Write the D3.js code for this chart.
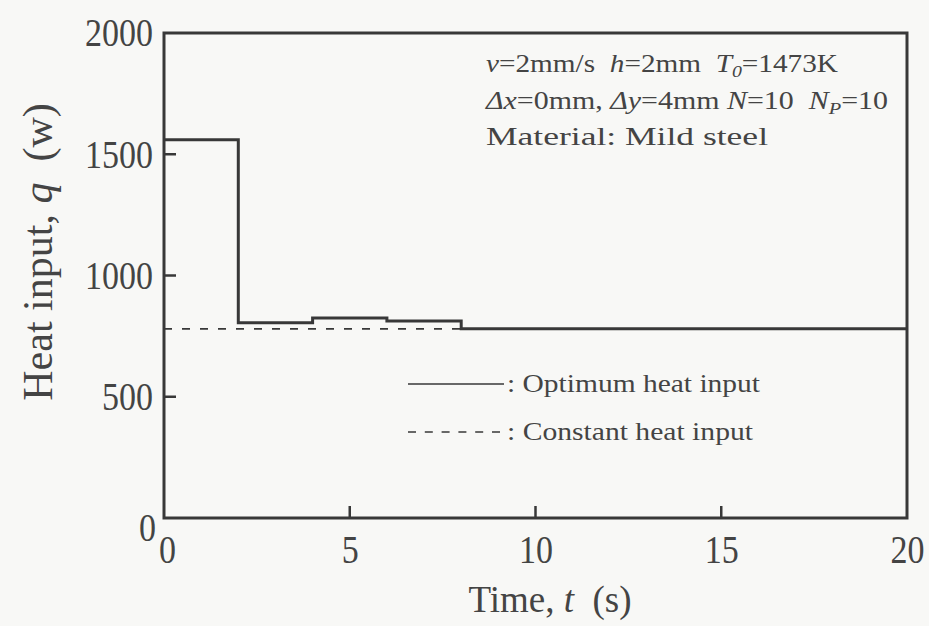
<!DOCTYPE html>
<html>
<head>
<meta charset="utf-8">
<script src="https://cdn.jsdelivr.net/npm/d3@7"></script>
<style>
  html, body { margin: 0; padding: 0; background: #f8f8f6; }
  svg { display: block; }
  text { font-family: "Liberation Serif", "DejaVu Serif", serif; fill: #444444; }
</style>
</head>
<body>
<svg id="chart" width="929" height="626"></svg>
<script>
// ---- data ----
const stepTimes = [0, 2, 4, 6, 8, 20];               // step boundaries (s)
const optimumHeat = [1560, 805, 825, 812, 780];      // W, per interval
const constantHeat = 780;                             // W
const xTicks = [0, 5, 10, 15, 20];
const yTicks = [0, 500, 1000, 1500, 2000];
const legendLabels = [": Optimum heat input", ": Constant heat input"];

const svg = d3.select("#chart");
const W = 929, H = 626;
const m = { left: 164, right: 22, top: 33, bottom: 108 };

const x = d3.scaleLinear().domain([0, 20]).range([m.left, W - m.right]);
const y = d3.scaleLinear().domain([0, 2000]).range([H - m.bottom, m.top]);

const ink = "#383838";
const fmt = d3.format("d");

// x axis (labels by d3 axis, inward ticks drawn from the scale)
const gx = svg.append("g")
  .attr("transform", `translate(0,${y(0)})`)
  .call(d3.axisBottom(x).tickValues(xTicks).tickFormat(fmt).tickSize(0).tickPadding(17));
gx.select(".domain").remove();
gx.selectAll("text")
  .style("font-family", "Liberation Serif, serif").style("font-size", "40px")
  .attr("fill", "#444444")
  .attr("textLength", d => fmt(d).length * 17).attr("lengthAdjust", "spacingAndGlyphs");
gx.selectAll(".tick").filter(d => d === 0).select("text").attr("x", 3);

const tickPath = svg.append("g").attr("class", "ticks");
tickPath.selectAll("path.xt").data(xTicks.slice(1, -1)).join("path")
  .attr("class", "xt")
  .attr("d", d => `M${x(d)},${y(0)}V${y(0) - 12}`)
  .attr("fill", "none").attr("stroke", ink).attr("stroke-width", 2.5);

// y axis
const gy = svg.append("g")
  .attr("transform", `translate(${x(0)},0)`)
  .call(d3.axisLeft(y).tickValues(yTicks).tickFormat(fmt).tickSize(0).tickPadding(11));
gy.select(".domain").remove();
gy.selectAll("text")
  .style("font-family", "Liberation Serif, serif").style("font-size", "40px")
  .attr("fill", "#444444")
  .attr("textLength", d => fmt(d).length * 17).attr("lengthAdjust", "spacingAndGlyphs");
gy.selectAll(".tick").filter(d => d === 0).select("text").attr("dy", "0.55em").attr("x", -8);

tickPath.selectAll("path.yt").data(yTicks.slice(1, -1)).join("path")
  .attr("class", "yt")
  .attr("d", d => `M${x(0)},${y(d)}H${x(0) + 12}`)
  .attr("fill", "none").attr("stroke", ink).attr("stroke-width", 2.5);

// constant dashed line
svg.append("line")
  .attr("x1", x(0)).attr("x2", x(20))
  .attr("y1", y(constantHeat)).attr("y2", y(constantHeat))
  .attr("stroke", ink).attr("stroke-width", 1.6)
  .attr("stroke-dasharray", "8,10");

// optimum step line
const stepData = optimumHeat.map((v, i) => ({ t: stepTimes[i], v }));
stepData.push({ t: stepTimes[stepTimes.length - 1], v: optimumHeat[optimumHeat.length - 1] });
const line = d3.line().x(d => x(d.t)).y(d => y(d.v)).curve(d3.curveStepAfter);
svg.append("path").datum(stepData)
  .attr("d", line)
  .attr("fill", "none").attr("stroke", ink).attr("stroke-width", 3);

// frame
svg.append("rect")
  .attr("x", x(0)).attr("y", y(2000))
  .attr("width", x(20) - x(0)).attr("height", y(0) - y(2000))
  .attr("fill", "none").attr("stroke", ink).attr("stroke-width", 3);

// axis titles
const xt = svg.append("text")
  .attr("x", 550).attr("y", 612)
  .attr("text-anchor", "middle").style("font-size", "37px");
xt.append("tspan").text("Time, ");
xt.append("tspan").style("font-style", "italic").text("t");
xt.append("tspan").text("\u00a0 (s)");

const yt = svg.append("text")
  .attr("transform", `translate(52,252) rotate(-90)`)
  .attr("text-anchor", "middle").style("font-size", "42px");
yt.append("tspan").text("Heat input, ");
yt.append("tspan").style("font-style", "italic").text("q");
yt.append("tspan").text("\u00a0 (w)");

// annotation
const ann = svg.append("g").style("font-size", "25px");
const l1 = ann.append("text").attr("x", 486).attr("y", 72)
  .attr("textLength", 352).attr("lengthAdjust", "spacingAndGlyphs");
l1.append("tspan").style("font-style", "italic").text("v");
l1.append("tspan").text("=2mm/s\u00a0 ");
l1.append("tspan").style("font-style", "italic").text("h");
l1.append("tspan").text("=2mm\u00a0 ");
l1.append("tspan").style("font-style", "italic").text("T");
l1.append("tspan").style("font-style", "italic").style("font-size", "17px").attr("dy", 5).text("0");
l1.append("tspan").attr("dy", -5).text("=1473K");

const l2 = ann.append("text").attr("x", 486).attr("y", 109)
  .attr("textLength", 402).attr("lengthAdjust", "spacingAndGlyphs");
l2.append("tspan").style("font-style", "italic").text("\u0394x");
l2.append("tspan").text("=0mm, ");
l2.append("tspan").style("font-style", "italic").text("\u0394y");
l2.append("tspan").text("=4mm ");
l2.append("tspan").style("font-style", "italic").text("N");
l2.append("tspan").text("=10\u00a0 ");
l2.append("tspan").style("font-style", "italic").text("N");
l2.append("tspan").style("font-style", "italic").style("font-size", "17px").attr("dy", 5).text("P");
l2.append("tspan").attr("dy", -5).text("=10");

ann.append("text").attr("x", 486).attr("y", 145)
  .attr("textLength", 282).attr("lengthAdjust", "spacingAndGlyphs")
  .text("Material: Mild steel");

// legend
const leg = svg.append("g");
const legY = [384, 432];
const legW = [253, 246];
leg.append("line").attr("x1", 408).attr("x2", 504).attr("y1", legY[0]).attr("y2", legY[0])
  .attr("stroke", ink).attr("stroke-width", 1.5);
leg.append("line").attr("x1", 408).attr("x2", 504).attr("y1", legY[1]).attr("y2", legY[1])
  .attr("stroke", ink).attr("stroke-width", 1.5).attr("stroke-dasharray", "8,8.8");
legendLabels.forEach((t, i) => {
  leg.append("text").attr("x", 507).attr("y", legY[i] + 8).style("font-size", "26px")
    .attr("textLength", legW[i]).attr("lengthAdjust", "spacingAndGlyphs").text(t);
});
</script>
</body>
</html>
